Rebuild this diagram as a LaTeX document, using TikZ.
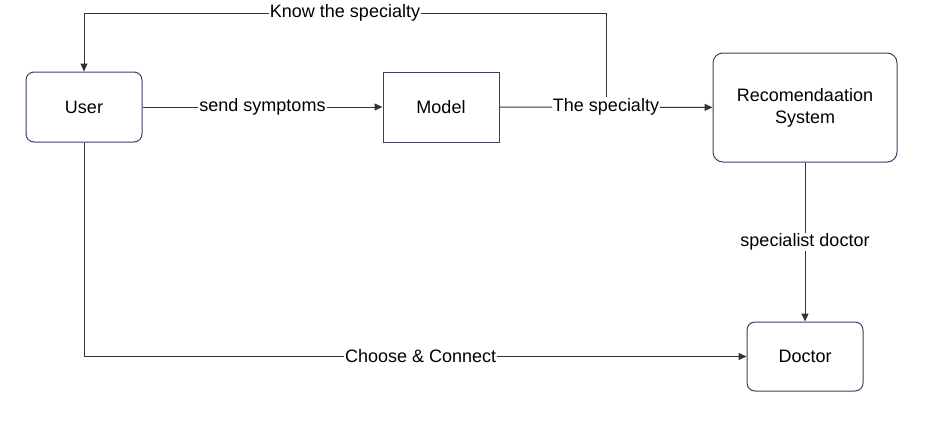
\documentclass[tikz,border=0pt]{standalone}
\usepackage{fontspec}
\setmainfont{Liberation Sans}
\usetikzlibrary{arrows.meta}
\definecolor{boxline}{HTML}{3A3F66}
\definecolor{edge}{HTML}{333333}
\begin{document}
\begin{tikzpicture}[x=1pt,y=-1pt,
  box/.style={draw=boxline,line width=1pt,fill=white,inner sep=0pt,align=center,
    font=\fontsize{18}{22}\selectfont},
  rbox/.style={box,rounded corners=8pt},
  arr/.style={draw=edge,line width=1pt,-{Triangle[length=8pt,width=7pt]}},
  lbl/.style={fill=white,inner sep=1pt,font=\fontsize{18}{21}\selectfont,text=black}]
\useasboundingbox (0,0) rectangle (933,423);
\node[rbox,minimum width=116pt,minimum height=70pt] (user) at (84,107) {User};
\node[box,minimum width=116pt,minimum height=70pt] (model) at (441,107) {Model};
\node[rbox,rounded corners=10pt,minimum width=184pt,minimum height=109pt] (rec) at (805,107.5) {Recomendaation\\System};
\node[rbox,minimum width=116pt,minimum height=69pt] (doctor) at (805,356.5) {Doctor};
\coordinate (ktop) at (0,13);
\draw[arr] (user) -- node[lbl] {send symptoms} (model);
\draw[arr] (model) -- node[lbl] (ts) {The specialty} (rec);
\draw[arr] (ts.north) -- (ts.north |- ktop) -| node[lbl,pos=0.25] {Know the specialty} (user.north);
\draw[arr] (rec) -- node[lbl] {specialist doctor} (doctor);
\draw[arr] (user.south) |- node[lbl,pos=0.754] {Choose \& Connect} (doctor.west);
\end{tikzpicture}
\end{document}
